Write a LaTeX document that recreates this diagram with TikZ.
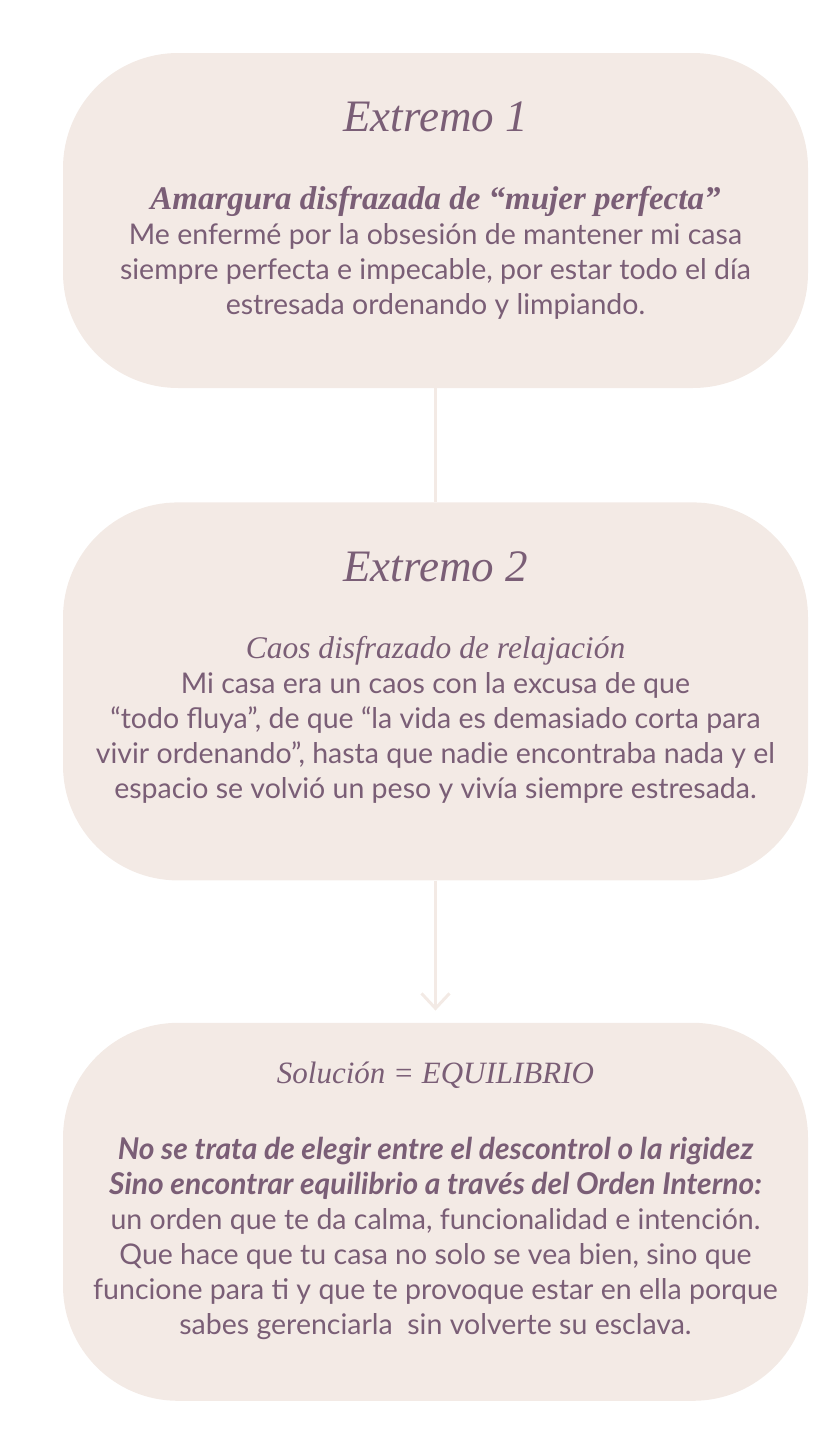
\documentclass[tikz,border=0pt]{standalone}
\usepackage{fontspec}
\setmainfont{Lato}
\newfontfamily\serifttl{Liberation Serif}
\usepackage{xcolor}
\usepackage{tikz}
\usetikzlibrary{arrows.meta,positioning}

\definecolor{boxfill}{HTML}{F3EAE5}
\definecolor{ink}{HTML}{7A5E76}

\begin{document}
\begin{tikzpicture}[
  node distance=114pt,
  box/.style={fill=boxfill,rounded corners=115pt,minimum width=745pt,minimum height=378pt,inner sep=0pt},
  heading/.style={font=\serifttl\itshape\fontsize{45}{50}\selectfont,text=ink,inner sep=0pt},
  bodytext/.style={font=\fontsize{28.5}{35}\selectfont,text=ink,align=center,anchor=north,inner sep=0pt},
  link/.style={draw=boxfill,line width=3pt},
  arrow/.style={link,-{Straight Barb[length=15pt,width=28pt,line width=3pt]}}
]
\useasboundingbox (0,0) rectangle (840pt,-1440pt);

% the three boxes
\node[box,minimum height=335pt] (ext1) at (435.5pt,-220.5pt) {};
\node[box,below=of ext1] (ext2) {};
\node[box,below=142pt of ext2] (sol) {};

% texts
\node[heading] (tit1) at ([yshift=-64pt]ext1.north) {Extremo 1};
\node[bodytext] (txt1) at ([yshift=-133pt]ext1.north)
  {{\serifttl\bfseries\itshape\fontsize{33}{35}\selectfont Amargura disfrazada de “mujer perfecta”}\\
   Me enfermé por la obsesión de mantener mi casa\\
   siempre perfecta e impecable, por estar todo el día\\
   estresada ordenando y limpiando.};

\node[heading] (tit2) at ([yshift=-65pt]ext2.north) {Extremo 2};
\node[bodytext] (txt2) at ([yshift=-134pt]ext2.north)
  {{\serifttl\itshape\fontsize{31.5}{35}\selectfont Caos disfrazado de relajación}\\
   Mi casa era un caos con la excusa de que\\
   “todo fluya”, de que “la vida es demasiado corta para\\
   vivir ordenando”, hasta que nadie encontraba nada y el\\
   espacio se volvió un peso y vivía siempre estresada.};

\node[heading,font=\serifttl\itshape\fontsize{31}{34}\selectfont] (tit3) at ([yshift=-53pt]sol.north) {Solución = EQUILIBRIO};
\node[bodytext] (txt3) at ([yshift=-114pt]sol.north)
  {{\bfseries\itshape\fontsize{30}{35}\selectfont No se trata de elegir entre el descontrol o la rigidez}\\
   {\bfseries\itshape\fontsize{30}{35}\selectfont Sino encontrar equilibrio a través del Orden Interno:}\\
   un orden que te da calma, funcionalidad e intención.\\
   Que hace que tu casa no solo se vea bien, sino que\\
   funcione para ti y que te provoque estar en ella porque\\
   sabes gerenciarla~ sin volverte su esclava.};

% connectors
\draw[link] (ext1) -- (ext2);
\draw[arrow] (ext2) -- ([yshift=12pt]sol.north);
\end{tikzpicture}
\end{document}
